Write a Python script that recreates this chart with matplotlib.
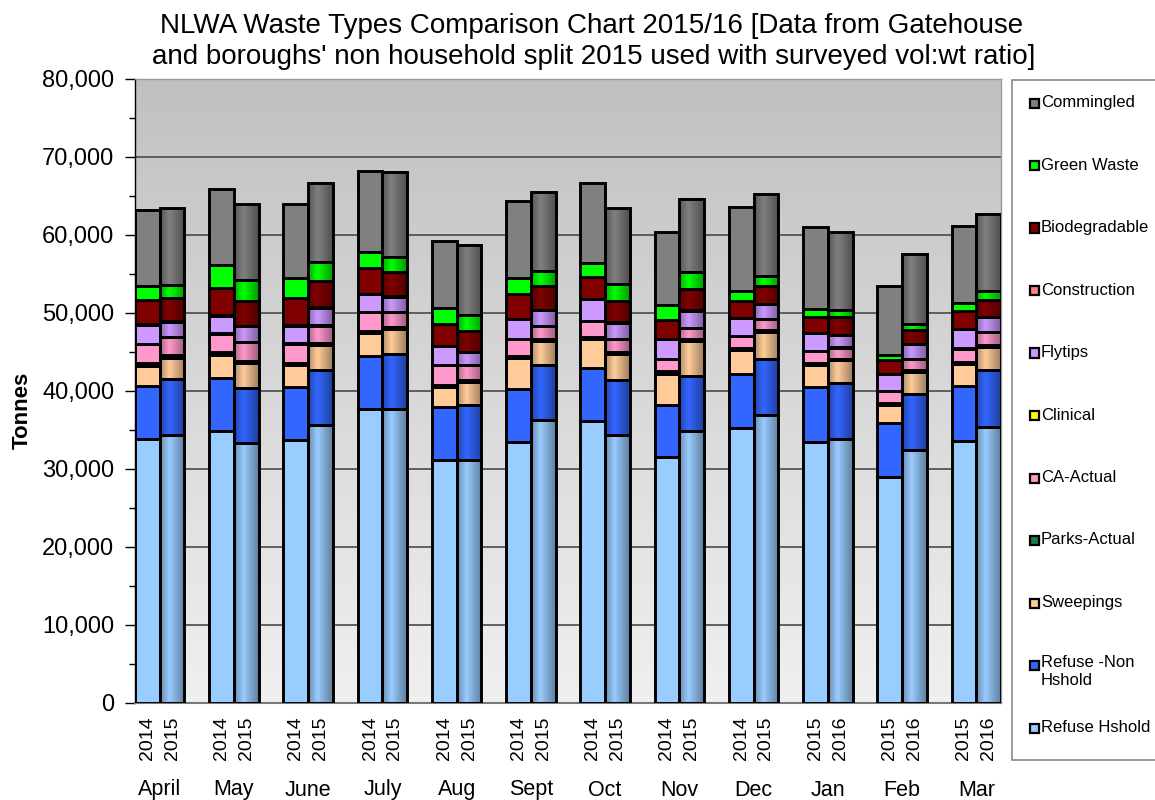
import numpy as np
import matplotlib
matplotlib.use('Agg')
import matplotlib.pyplot as plt
from matplotlib import font_manager
from matplotlib.patches import Rectangle
import matplotlib.transforms as mtransforms
from matplotlib.ticker import FuncFormatter, MultipleLocator
from matplotlib.colors import to_rgb

# ---------------- data ----------------
months = ['April', 'May', 'June', 'July', 'Aug', 'Sept', 'Oct', 'Nov', 'Dec', 'Jan', 'Feb', 'Mar']
years = ['2014', '2015'] * 9 + ['2015', '2016'] * 3

series_names = ['Refuse Hshold', 'Refuse -Non\nHshold', 'Sweepings', 'Parks-Actual', 'CA-Actual',
                'Clinical', 'Flytips', 'Construction', 'Biodegradable', 'Green Waste', 'Commingled']
series_colors = ['#99CCFF', '#3366FF', '#FFCC99', '#1E7A4A', '#FF99CC',
                 '#FFFF00', '#CC99FF', '#FF8080', '#800000', '#00FF00', '#808080']

refuse_hshold = [33850, 34400, 34790, 33290, 33720, 35560, 37620, 37710, 31190, 31190, 33420, 36290,
                 36120, 34280, 31490, 34790, 35260, 36850, 33420, 33850, 28920, 32430, 33510, 35350]
refuse_non_hshold = [6770, 7080, 6900, 7075, 6775, 7160, 6820, 7075, 6730, 7030, 6860, 7075,
                     6860, 7160, 6730, 7115, 6945, 7200, 7075, 7160, 6990, 7200, 7070, 7290]
sweepings = [2600, 2790, 2960, 3260, 2785, 3130, 3040, 3130, 2570, 2870, 3900, 3000,
             3645, 3300, 3990, 4460, 3085, 3470, 2830, 2915, 2315, 2830, 2830, 3040]
parks_actual = [300, 300, 300, 260, 260, 300, 215, 300, 300, 260, 300, 260,
                300, 215, 340, 300, 260, 260, 260, 215, 260, 260, 260, 260]
ca_actual = [2450, 2360, 2400, 2320, 2530, 2230, 2445, 1930, 2490, 1930, 2145, 1715,
             2060, 1670, 1500, 1415, 1460, 1415, 1500, 1415, 1500, 1330, 1760, 1630]
clinical = [20] * 24
flytips = [2500, 1930, 2270, 2100, 2270, 2270, 2270, 1930, 2485, 1715, 2570, 2015,
           2745, 2100, 2570, 2185, 2270, 1930, 2270, 1585, 2100, 1885, 2445, 1840]
construction = [30] * 24
biodegradable = [3090, 3000, 3515, 3215, 3515, 3345, 3300, 3130, 2785, 2660, 3175, 3085,
                 2830, 2700, 2360, 2785, 2230, 2315, 2060, 2230, 1760, 1845, 2270, 2230]
green_waste = [1840, 1715, 2960, 2700, 2570, 2485, 2060, 1930, 2015, 1970, 2055, 1845,
               1800, 2275, 2015, 2100, 1285, 1200, 1070, 985, 640, 730, 1070, 1155]
commingled = [9730, 9860, 9775, 9730, 9520, 10160, 10375, 10930, 8660, 9090, 9860, 10200,
              10200, 9730, 9345, 9430, 10720, 10500, 10460, 9945, 8875, 9045, 9860, 9775]

series_values = [refuse_hshold, refuse_non_hshold, sweepings, parks_actual, ca_actual, clinical,
                 flytips, construction, biodegradable, green_waste, commingled]

# ---------------- fonts ----------------
avail = {f.name for f in font_manager.fontManager.ttflist}
base_font = 'Liberation Sans' if 'Liberation Sans' in avail else 'DejaVu Sans'
narrow_font = 'Liberation Sans Narrow' if 'Liberation Sans Narrow' in avail else base_font
plt.rcParams['font.family'] = [base_font, 'DejaVu Sans']

W, H = 1155, 800
fig = plt.figure(figsize=(W / 100, H / 100), dpi=100)
fig.patch.set_facecolor('white')


def fx(px):
    return px / W


def fy(py):
    return 1 - py / H


ax = fig.add_axes([fx(135), fy(702.7), fx(1001) - fx(135), fy(79) - fy(702.7)])

# background gradient
grad_bg = np.linspace(0.94, 0.755, 256)[:, None]
bg = np.dstack([grad_bg, grad_bg, grad_bg])
ax.imshow(bg, extent=[0, 1, 0, 1], transform=ax.transAxes, aspect='auto',
          origin='lower', zorder=0, interpolation='bilinear')

# bar positions (gap slot between months)
n = len(years)
xpos = np.array([3 * (i // 2) + (i % 2) for i in range(n)], dtype=float)
left_idx = np.arange(0, n, 2)
right_idx = np.arange(1, n, 2)

EDGE = 2.1
bottoms = np.zeros(n)
tprof = np.linspace(0, 1, 48)
mult = np.interp(tprof, [0, 0.38, 1.0], [0.68, 1.0, 0.62])

for vals, col in zip(series_values, series_colors):
    v = np.array(vals, dtype=float)
    # flat bars (first year of each pair)
    ax.bar(xpos[left_idx], v[left_idx], bottom=bottoms[left_idx], width=1.0,
           color=col, edgecolor='black', linewidth=EDGE, zorder=3)
    # shaded bars (second year)
    rects = ax.bar(xpos[right_idx], v[right_idx], bottom=bottoms[right_idx], width=1.0,
                   color=col, edgecolor='none', linewidth=0, zorder=2)
    base = np.array(to_rgb(col))
    img = np.clip(base[None, None, :] * mult[None, :, None], 0, 1)
    for r in rects:
        x0, y0, w, h = r.get_x(), r.get_y(), r.get_width(), r.get_height()
        ax.imshow(img, extent=[x0, x0 + w, y0, y0 + h], aspect='auto', zorder=2.5,
                  interpolation='bilinear')
    ax.bar(xpos[right_idx], v[right_idx], bottom=bottoms[right_idx], width=1.0,
           fill=False, edgecolor='black', linewidth=EDGE, zorder=3)
    bottoms += v

ax.set_xlim(-0.5, xpos[-1] + 0.5)
ax.set_ylim(0, 80000)
ax.set_aspect('auto')

# axes styling
ax.set_axisbelow(True)
ax.yaxis.set_major_locator(MultipleLocator(10000))
ax.yaxis.set_minor_locator(MultipleLocator(5000))
ax.yaxis.set_major_formatter(FuncFormatter(lambda v, p: f'{v:,.0f}'))
ax.grid(axis='y', which='major', color='#4a4a4a', linewidth=1.2)
ax.tick_params(axis='y', which='major', length=7, width=1, direction='out',
               labelsize=17, pad=8)
ax.tick_params(axis='y', which='minor', length=4, width=1, direction='out')

ax.set_xticks(xpos)
ax.set_xticklabels(years, rotation=90, fontsize=14)
ax.tick_params(axis='x', length=0, pad=10)

for s in ['top', 'right']:
    ax.spines[s].set_color('#9a9a9a')
    ax.spines[s].set_linewidth(1.0)
ax.spines['left'].set_color('black')
ax.spines['left'].set_linewidth(1.0)
ax.spines['bottom'].set_color('#7a7a7a')
ax.spines['bottom'].set_linewidth(1.5)

# month labels
blend = mtransforms.blended_transform_factory(ax.transData, fig.transFigure)
for g, m in enumerate(months):
    ax.text(3 * g + 0.5, fy(790), m, transform=blend, ha='center', va='center',
            fontsize=15.5, family=[narrow_font, 'DejaVu Sans'])

# y label
fig.text(fx(22), fy(410), 'Tonnes', rotation=90, ha='center', va='center',
         fontsize=16, fontweight='bold')

# title
fig.text(fx(592), fy(33), 'NLWA Waste Types Comparison Chart 2015/16 [Data from Gatehouse',
         ha='center', va='baseline', fontsize=20)
fig.text(fx(594), fy(64), "and boroughs' non household split 2015 used with surveyed vol:wt ratio]",
         ha='center', va='baseline', fontsize=20)

# legend (manual, reverse order of stacking)
fig.add_artist(Rectangle((fx(1012), fy(760)), fx(1160) - fx(1012), fy(80) - fy(760),
                         transform=fig.transFigure, facecolor='white', edgecolor='#8a8a8a',
                         linewidth=1.2, zorder=1))
leg_y = [103, 165, 228, 290, 353, 415, 478, 540, 603, 665, 728]
for i, (name, col) in enumerate(zip(series_names[::-1], series_colors[::-1])):
    yc = leg_y[i]
    fig.add_artist(Rectangle((fx(1030), fy(yc + 4.5)), fx(9), fy(yc - 4.5) - fy(yc + 4.5),
                             transform=fig.transFigure, facecolor=col, edgecolor='black',
                             linewidth=1.6, zorder=2))
    if '\n' in name:
        fig.text(fx(1041), fy(yc - 10), name, ha='left', va='top', fontsize=12,
                 linespacing=1.25, zorder=3)
    else:
        fig.text(fx(1041), fy(yc), name, ha='left', va='center', fontsize=12, zorder=3)

fig.savefig('out.png', dpi=100)
